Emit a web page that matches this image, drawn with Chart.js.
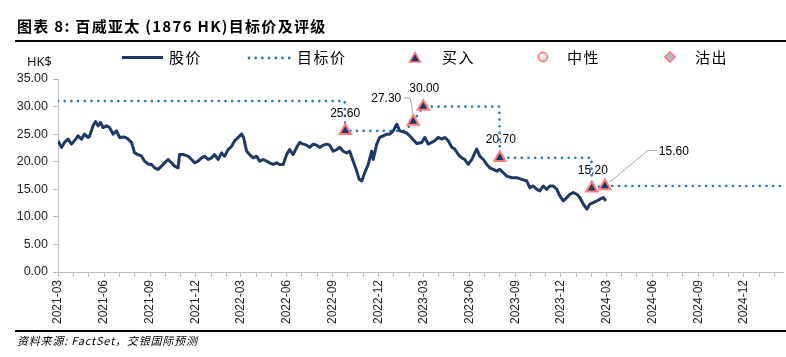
<!DOCTYPE html>
<html><head><meta charset="utf-8">
<script src="https://cdn.jsdelivr.net/npm/chart.js@4.4.1/dist/chart.umd.min.js"></script>
<style>
html,body{margin:0;padding:0;background:#fff;}
#wrap{position:relative;width:786px;height:357px;overflow:hidden;background:#fff;}
#c{position:absolute;left:0;top:0;}
.t{position:absolute;white-space:nowrap;color:#000;}
.lg{font:15px 'Noto Sans CJK SC';letter-spacing:1.5px;line-height:20px;top:47px;}
</style></head><body>
<div id="wrap">
<canvas id="c" width="786" height="357"></canvas>
<div class="t" style="left:17px;top:15px;font:bold 15px 'Noto Sans CJK SC';letter-spacing:1.3px;line-height:22px">图表 8: 百威亚太 (1876 HK)目标价及评级</div>
<div style="position:absolute;left:15px;right:0;top:40px;height:2px;background:#000"></div>

<div style="position:absolute;left:122px;top:56px;width:41px;height:3px;background:#1F3864"></div>
<div class="t lg" style="left:169px">股价</div>
<svg style="position:absolute;left:246px;top:52px" width="46" height="12">
  <g fill="#2E75B6"><circle cx="3" cy="6" r="1.4"/><circle cx="9.7" cy="6" r="1.4"/><circle cx="16.4" cy="6" r="1.4"/><circle cx="23.1" cy="6" r="1.4"/><circle cx="29.8" cy="6" r="1.4"/><circle cx="36.5" cy="6" r="1.4"/><circle cx="43.2" cy="6" r="1.4"/></g>
</svg>
<div class="t lg" style="left:297px">目标价</div>
<svg style="position:absolute;left:408px;top:50px" width="14" height="14">
  <polygon points="7,2.5 12.5,12 1.5,12" fill="#1F3864" stroke="#FF7C80" stroke-width="1.6"/>
</svg>
<div class="t lg" style="left:442px">买入</div>
<svg style="position:absolute;left:536px;top:50px" width="14" height="14">
  <defs><radialGradient id="g1" cx="40%" cy="35%" r="70%"><stop offset="0" stop-color="#ffffff"/><stop offset="1" stop-color="#BFBFBF"/></radialGradient></defs>
  <circle cx="7" cy="7" r="4.6" fill="url(#g1)" stroke="#FF7C80" stroke-width="1.6"/>
</svg>
<div class="t lg" style="left:567px">中性</div>
<svg style="position:absolute;left:663px;top:50px" width="14" height="14">
  <polygon points="7,1.8 12.2,7 7,12.2 1.8,7" fill="#A9B8C4" stroke="#FF7C80" stroke-width="1.6"/>
</svg>
<div class="t lg" style="left:695px">沽出</div>

<div class="t" style="left:27px;top:52px;font:13px 'Open Sans';line-height:18px">HK$</div>

<div style="position:absolute;left:15px;right:0;top:330px;height:2px;background:#000"></div>
<div class="t" style="left:17px;top:333px;font:italic 11px 'Noto Sans CJK SC';letter-spacing:0.8px;line-height:15px">资料来源: FactSet，交银国际预测</div>
</div>
<script>
const startDate = '2021-03-01';
const axisEndDate = '2025-02-17';
const tickLabels = ['2021-03','2021-06','2021-09','2021-12','2022-03','2022-06','2022-09','2022-12',
  '2023-03','2023-06','2023-09','2023-12','2024-03','2024-06','2024-09','2024-12'];
const yTicks = [0,5,10,15,20,25,30,35];

// share price: days since startDate, HK$
const priceDays = [
  0,7,13,20,27,33,40,47,53,60,63,70,75,80,85,90,97,103,110,117,
  123,133,140,147,153,160,167,173,180,187,193,200,207,213,220,227,233,240,243,250,
  260,267,273,280,287,293,300,307,313,320,327,333,340,347,353,360,367,371,377,383,
  390,397,403,410,417,423,430,437,443,450,457,463,470,477,483,490,497,503,510,517,
  523,530,537,543,550,557,563,570,577,583,590,597,602,607,613,620,627,630,637,643,
  650,657,663,670,677,683,690,697,703,710,717,727,733,740,747,753,760,767,773,780,
  787,793,800,807,813,820,827,833,837,843,850,857,863,870,877,883,890,897,907,917,
  927,937,943,950,957,963,970,977,983,990,997,1003,1010,1017,1023,1030,1037,1043,1050,1057,
  1063,1070,1077,1083,1090,1095];
const priceValues = [
  23.8,22.6,23.5,24.1,23.2,23.8,24.7,24.1,25.0,24.4,24.6,26.5,27.3,26.5,27.1,26.2,26.5,26.2,25.0,25.6,
  24.4,24.5,24.1,23.5,21.6,21.3,21.0,20.1,19.6,19.5,18.9,18.6,19.2,19.8,20.4,19.8,19.2,18.9,21.3,21.3,
  21.0,20.4,19.8,20.1,20.7,21.0,20.4,20.7,21.3,20.4,21.6,21.0,22.2,22.8,23.8,24.4,25.0,24.4,21.9,21.3,
  20.7,21.0,20.1,20.4,20.1,19.8,19.5,19.8,19.5,19.5,21.3,22.2,21.3,22.6,23.5,23.2,23.0,22.6,23.2,23.0,
  22.6,23.0,23.2,23.0,21.9,22.2,22.6,21.9,21.6,21.9,20.1,18.3,16.8,16.5,18.0,19.5,21.9,20.4,23.2,24.4,
  24.7,25.0,25.0,25.6,26.8,25.6,25.4,25.2,24.7,24.0,23.3,23.5,24.4,23.2,23.5,23.8,24.4,24.1,24.4,23.8,
  22.6,22.3,21.3,20.7,20.4,19.5,20.4,21.6,22.3,21.0,20.4,19.5,18.9,18.6,18.3,18.6,18.0,17.4,17.1,17.1,
  16.8,16.5,15.3,15.6,15.0,14.7,15.6,15.0,15.6,15.6,15.0,13.8,12.9,13.5,14.1,14.4,14.1,13.5,12.3,11.4,
  12.3,12.6,12.9,13.2,13.5,12.9];

// target price path
const targetDates = ['2021-03-01','2022-09-25','2022-09-26','2023-01-24','2023-02-09','2023-03-01',
  '2023-07-31','2023-08-01','2024-01-31','2024-02-01','2024-02-27','2025-02-17'];
const targetValues = [31.0,31.0,25.6,25.6,27.3,30.0,30.0,20.7,20.7,15.2,15.6,15.6];

// buy ratings
const buyDates = ['2022-09-26','2023-02-09','2023-03-01','2023-08-01','2024-02-01','2024-02-27'];
const buyValues = [25.6,27.3,30.0,20.7,15.2,15.6];
const buyLabels = ['25.60','27.30','30.00','20.70','15.20','15.60'];

function dayOf(s){
  return Math.round((Date.parse(s+'T00:00:00Z') - Date.parse(startDate+'T00:00:00Z'))/86400000);
}
const monthTicks = [];
for (let y=2021; y<=2025; y++) for (let m=1; m<=12; m++){
  const s = y + '-' + String(m).padStart(2,'0');
  const d = dayOf(s + '-01');
  if (d >= 0 && d <= dayOf(axisEndDate)) monthTicks.push({value:d, label:s});
}
function labelFor(v){ const t = monthTicks.find(m=>m.value===v); return (t && tickLabels.includes(t.label)) ? t.label : ''; }

const navy = '#1F3864';
const dotBlue = '#2E75B6';
const axisGray = '#BFBFBF';
const txt = '#262626';

// label offsets (styling only)
const labelOffsets = [
  {dx:0, dy:-17},
  {dx:-27, dy:-23, leader:[[-9,-23.5],[-3,-23.5],[0,-6]]},
  {dx:1, dy:-18},
  {dx:1, dy:-18},
  {dx:1, dy:-17},
  {dx:69, dy:-34, leader:[[52,-35.5],[43,-35.5],[5,-4]]}
];

const labelPlugin = {
  id:'buyLabels',
  afterDatasetsDraw(chart){
    const meta = chart.getDatasetMeta(2);
    const ctx = chart.ctx;
    ctx.save();
    meta.data.forEach((pt,i)=>{
      const o = labelOffsets[i];
      if (o.leader){
        ctx.beginPath();
        ctx.strokeStyle = '#A6A6A6';
        ctx.lineWidth = 1;
        o.leader.forEach((p,j)=>{ const X=pt.x+p[0], Y=pt.y+p[1]; if(j===0) ctx.moveTo(X,Y); else ctx.lineTo(X,Y); });
        ctx.stroke();
      }
      ctx.fillStyle = '#000';
      ctx.font = "12px 'Liberation Sans'";
      ctx.textAlign = 'center';
      ctx.textBaseline = 'middle';
      ctx.fillText(buyLabels[i], pt.x + o.dx, pt.y + o.dy);
    });
    ctx.restore();
  }
};

new Chart(document.getElementById('c'), {
  type:'line',
  data:{
    datasets:[
      {label:'股价', data: priceDays.map((d,i)=>({x:d, y:priceValues[i]})),
        borderColor:navy, borderWidth:3, pointRadius:0, tension:0, order:1, borderJoinStyle:'round'},
      {label:'目标价', data: targetDates.map((d,i)=>({x:dayOf(d), y:targetValues[i]})),
        borderColor:dotBlue, borderWidth:2.7, borderDash:[0,6.7], borderCapStyle:'round',
        pointRadius:0, tension:0, order:2},
      {label:'买入', data: buyDates.map((d,i)=>({x:dayOf(d), y:buyValues[i]})),
        showLine:false, pointStyle:'triangle', pointRadius:6.5, pointBackgroundColor:navy,
        pointBorderColor:'#FF7C80', pointBorderWidth:2, order:0}
    ]
  },
  options:{
    responsive:false, animation:false, events:[],
    layout:{autoPadding:false, padding:{top:79, right:3, left:0, bottom:0}},
    plugins:{legend:{display:false}, tooltip:{enabled:false}},
    scales:{
      x:{type:'linear', min:0, max:dayOf(axisEndDate),
        afterBuildTicks(s){ s.ticks = monthTicks.map(t=>({value:t.value})); },
        afterFit(s){ s.height = 85; s.paddingLeft = 0; s.paddingRight = 0; },
        ticks:{autoSkip:false, maxRotation:90, minRotation:90, padding:3, color:txt,
          font:{family:"'Liberation Sans'", size:12},
          callback(v){ return labelFor(v); }},
        grid:{drawOnChartArea:false, drawTicks:true, tickLength:5, color:axisGray},
        border:{display:true, color:axisGray, width:1}
      },
      y:{min:0, max:35,
        afterBuildTicks(s){ s.ticks = yTicks.map(v=>({value:v})); },
        afterFit(s){ s.width = 58; },
        ticks:{color:txt, padding:5, font:{family:"'Liberation Sans'", size:12.5}, callback(v){ return v.toFixed(2); }},
        grid:{drawOnChartArea:false, drawTicks:true, tickLength:5, color:axisGray},
        border:{display:true, color:axisGray, width:1}
      }
    }
  },
  plugins:[labelPlugin]
});
</script>
</body></html>
